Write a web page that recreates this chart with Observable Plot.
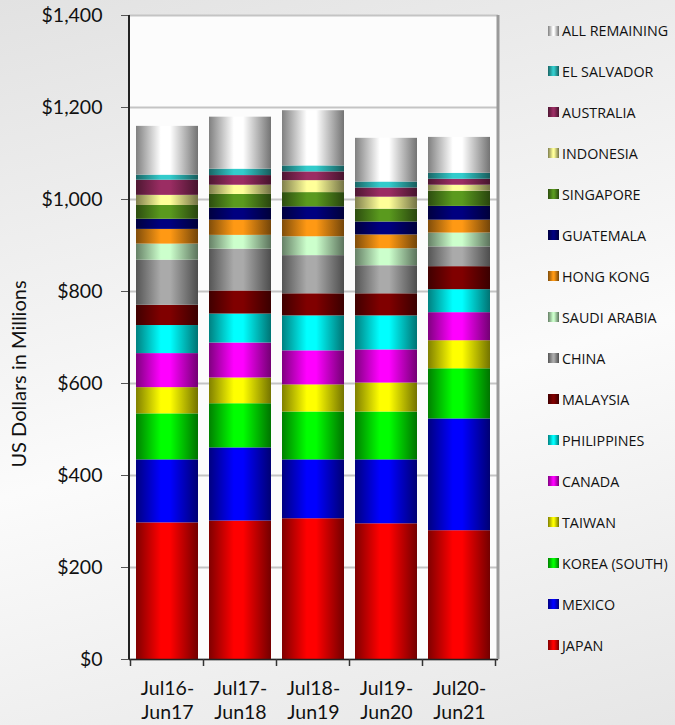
<!DOCTYPE html>
<html><head><meta charset="utf-8">
<script src="https://cdn.jsdelivr.net/npm/d3@7"></script>
<script src="https://cdn.jsdelivr.net/npm/@observablehq/plot@0.6"></script>
<style>
html,body{margin:0;padding:0;}
body{width:675px;height:725px;overflow:hidden;position:relative;font-family:Lato,"Open Sans",sans-serif;
 background:linear-gradient(165deg,#e2e2e2 0%,#f4f4f4 40%,#fbfbfb 55%,#e6e6e6 100%);}
#chart{position:absolute;left:0;top:0;}
#legend{position:absolute;left:548px;top:0;width:127px;height:725px;}
.item{position:absolute;left:0;height:14px;display:flex;align-items:center;white-space:nowrap;font-family:"Open Sans",sans-serif;font-size:14.3px;color:#111;}
.sw{width:11px;height:10px;margin-right:3px;flex:none;}
#ytitle{position:absolute;left:18px;top:374px;transform:translate(-50%,-50%) rotate(-90deg);white-space:nowrap;font-size:20px;color:#111;}
</style></head><body>
<svg width="0" height="0" style="position:absolute"><defs id="gdefs"></defs></svg>
<div id="chart"></div>
<div id="ytitle">US Dollars in Millions</div>
<div id="legend"></div>
<script>
const periods = ["Jul16-\nJun17", "Jul17-\nJun18", "Jul18-\nJun19", "Jul19-\nJun20", "Jul20-\nJun21"];
const countries = ["JAPAN","MEXICO","KOREA (SOUTH)","TAIWAN","CANADA","PHILIPPINES","MALAYSIA","CHINA","SAUDI ARABIA","HONG KONG","GUATEMALA","SINGAPORE","INDONESIA","AUSTRALIA","EL SALVADOR","ALL REMAINING"];
const colors = ["#ff0000","#0000ff","#00ff00","#ffff00","#ff00ff","#00ffff","#800000","#aaaaaa","#ccffcc","#ff9914","#000080","#5a9a1e","#ffff99","#9b2d63","#33cccc","#ffffff"];

const japan       = [297, 301, 306, 295, 280];
const mexico      = [137, 159, 128, 139, 243];
const korea       = [100,  96, 104, 104, 109];
const taiwan      = [ 57,  56,  59,  63,  61];
const canada      = [ 74,  76,  74,  72,  61];
const philippines = [ 61,  63,  76,  74,  50];
const malaysia    = [ 44,  50,  48,  48,  50];
const china       = [ 98,  91,  83,  61,  43];
const saudiArabia = [ 35,  30,  41,  37,  30];
const hongKong    = [ 32,  33,  37,  30,  28];
const guatemala   = [ 22,  26,  28,  28,  30];
const singapore   = [ 30,  30,  31,  28,  33];
const indonesia   = [ 22,  20,  26,  26,  13];
const australia   = [ 33,  21,  19,  20,  13];
const elSalvador  = [ 11,  14,  13,  13,  13];
const allRemaining= [106, 113, 120,  95,  78];

const yTicks = [0, 200, 400, 600, 800, 1000, 1200, 1400];

const seriesValues = [japan, mexico, korea, taiwan, canada, philippines, malaysia, china, saudiArabia, hongKong, guatemala, singapore, indonesia, australia, elSalvador, allRemaining];
const rows = countries.flatMap((c, i) => periods.map((p, j) => ({period: p, country: c, value: seriesValues[i][j]})));

// gradients (cylinder look)
function shade(c, k) { const r = d3.rgb(c); return d3.rgb(r.r * k, r.g * k, r.b * k).formatHex(); }
const defs = d3.select("#gdefs");
colors.forEach((c, i) => {
  const g = defs.append("linearGradient").attr("id", "grad" + i).attr("x1", 0).attr("x2", 1).attr("y1", 0).attr("y2", 0);
  g.append("stop").attr("offset", "0%").attr("stop-color", shade(c, 0.5));
  g.append("stop").attr("offset", "40%").attr("stop-color", c);
  g.append("stop").attr("offset", "55%").attr("stop-color", c);
  g.append("stop").attr("offset", "100%").attr("stop-color", shade(c, 0.45));
});
const fills = colors.map((c, i) => `url(#grad${i})`);

const chart = Plot.plot({
  width: 675, height: 725,
  marginTop: 15, marginBottom: 66, marginLeft: 129, marginRight: 177,
  style: {background: "transparent", color: "#111", fontFamily: "Lato, 'Open Sans', sans-serif"},
  x: {domain: periods, paddingInner: 0.15, paddingOuter: 0.075, label: null},
  y: {domain: [0, 1400], label: null},
  color: {type: "ordinal", domain: countries, range: fills},
  marks: [
    Plot.frame({fill: "#fcfcfc", stroke: "#c8c8c8"}),
    Plot.gridY(yTicks, {stroke: "#c4c4c4", strokeOpacity: 1, strokeWidth: 2}),
    Plot.barY(rows, {x: "period", y: "value", fill: "country"}),
    Plot.axisY(yTicks, {tickFormat: d3.format("$,"), tickSize: 8, tickPadding: 19, fontSize: 19.5, label: null, stroke: "#555"}),
    Plot.axisX({tickSize: 0, tickPadding: 19, fontSize: 19.5, lineHeight: 1.22, label: null}),
    Plot.ruleY([0], {stroke: "#222", strokeWidth: 1.5})
  ]
});
document.getElementById("chart").appendChild(chart);

// axis lines, category boundary ticks, right border
const xs = chart.scale("x"), ys = chart.scale("y");
const [x0, x1] = xs.range; const [yb, yt] = ys.range;
const svg = d3.select(chart);
svg.append("line").attr("x1", x1).attr("x2", x1).attr("y1", yt).attr("y2", yb).attr("stroke", "#9a9a9a").attr("stroke-width", 3);
svg.append("line").attr("x1", x0).attr("x2", x0).attr("y1", yt).attr("y2", yb).attr("stroke", "#222").attr("stroke-width", 2);
const bounds = periods.map(p => xs.apply(p) + xs.bandwidth / 2 - xs.step / 2);
bounds.push(bounds[bounds.length - 1] + xs.step);
svg.selectAll(null).data(bounds).join("line")
  .attr("x1", d => d).attr("x2", d => d).attr("y1", yb).attr("y2", yb + 7)
  .attr("stroke", "#333").attr("stroke-width", 1.5);

// legend
const legend = d3.select("#legend");
const order = countries.map((c, i) => i).reverse();
order.forEach((i, k) => {
  const it = legend.append("div").attr("class", "item").style("top", (23.5 + k * 40.97) + "px");
  it.append("div").attr("class", "sw").style("background", `linear-gradient(to right, ${shade(colors[i], 0.5)}, ${colors[i]} 45%, ${colors[i]} 55%, ${shade(colors[i], 0.45)})`);
  it.append("span").text(countries[i]);
});
</script>
</body></html>
